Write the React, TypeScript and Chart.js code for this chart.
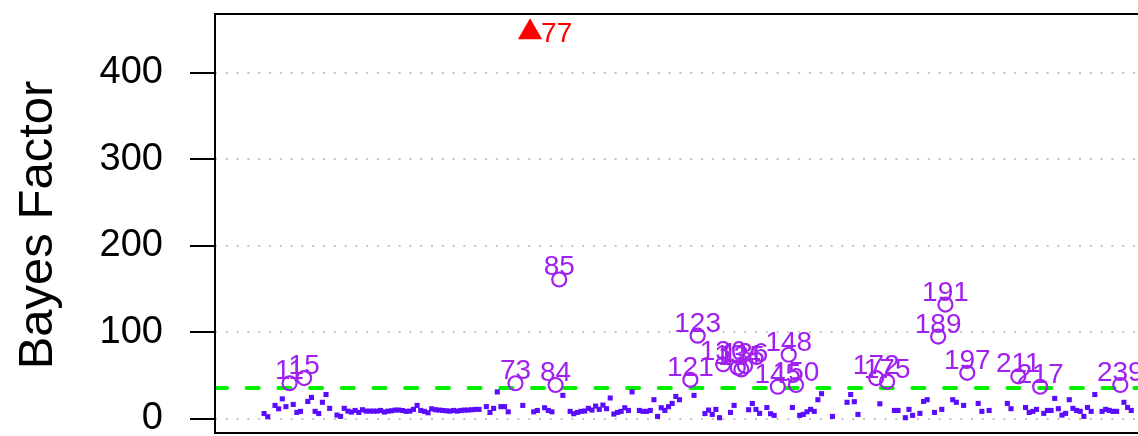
import React, { useEffect, useRef } from 'react';
import { Chart, registerables } from 'chart.js';

Chart.register(...registerables);

// ---- data (index along the x axis, Bayes factor value) ----
const squareIdx = [4, 5, 7, 8, 9, 10, 12, 13, 14, 16, 17, 18, 19, 20, 21, 22, 24, 25, 26, 27, 28, 29, 30, 31, 32, 33, 34, 35, 36, 37, 38, 39, 40, 41, 42, 43, 44, 45, 46, 47, 48, 49, 50, 51, 52, 53, 54, 55, 56, 57, 58, 59, 60, 61, 62, 63, 65, 66, 67, 68, 69, 70, 71, 75, 78, 79, 81, 82, 83, 86, 88, 89, 90, 91, 92, 93, 94, 95, 96, 97, 98, 99, 100, 101, 102, 103, 104, 105, 107, 108, 109, 110, 111, 112, 113, 114, 115, 116, 117, 118, 122, 125, 126, 127, 128, 129, 132, 133, 137, 138, 139, 140, 142, 143, 144, 149, 151, 152, 153, 154, 155, 156, 157, 160, 164, 165, 166, 167, 173, 177, 178, 180, 181, 182, 184, 185, 186, 188, 190, 193, 194, 196, 200, 201, 203, 208, 209, 213, 214, 215, 216, 218, 219, 220, 221, 222, 223, 224, 225, 226, 227, 228, 229, 230, 231, 232, 234, 235, 236, 237, 238, 240, 241, 242];
const squareVal = [6, 2.3, 15.4, 11.5, 23, 14, 16.5, 7.3, 8.5, 20, 24.6, 8.5, 6, 19, 28, 12, 4.2, 2.7, 12, 8.8, 7.7, 9.6, 7.3, 10.4, 8.8, 8.8, 8.8, 8.8, 9.6, 7.7, 8.8, 9.2, 10, 10, 9.5, 8.5, 8.8, 10.8, 15.4, 9.6, 8.5, 6.9, 11.5, 10.4, 10, 9.6, 9.2, 8.8, 9.6, 8.8, 9.6, 10, 10, 10.4, 10.8, 10.8, 14, 7.3, 12, 31, 14, 14, 8, 15.4, 8, 9.6, 12.7, 9.6, 8, 27, 8.5, 5.8, 7.3, 8.5, 8.9, 12, 10, 14.6, 10.8, 15.8, 11.6, 24, 5.4, 7.3, 8.5, 12.7, 9.6, 31, 9.6, 8.5, 8.5, 9.6, 22, 2.7, 12.7, 9.6, 13.9, 17.7, 25.8, 22, 27, 6, 10, 5, 10.8, 1.2, 7.3, 15.4, 10.4, 17.7, 10.8, 6.2, 13, 5.8, 3.9, 13, 3.9, 5, 8, 10.8, 8.5, 22, 29, 2.7, 19, 28, 19.7, 5, 17.3, 9.6, 9.6, 1.2, 10.8, 3.9, 6.2, 20, 22, 7.3, 10.8, 22, 19, 15.4, 17.7, 8.5, 9.6, 17.7, 11.6, 13, 7.3, 8.5, 10.8, 6.2, 9.6, 9.6, 23.5, 11.6, 4.2, 6.2, 22, 12, 9.6, 8.5, 2.7, 13, 8.5, 28, 8.5, 10.8, 9.6, 8.5, 8.5, 19, 13, 9.6];

const circleIdx = [11, 15, 73, 84, 85, 121, 123, 130, 134, 135, 136, 145, 148, 150, 172, 175, 189, 191, 197, 211, 217, 239];
const circleVal = [41, 47, 41, 39, 161, 45, 96, 63, 59, 57, 61, 37, 74, 39, 47, 43, 95, 132, 53, 49, 37, 39];

const peakIdx = [77];
const peakVal = [447];

const threshold = 35.5;
const yTickValues = [0, 100, 200, 300, 400];
const xMin = -9.47;
const xMax = 273.5;
const yMin = -16.5;
const yMax = 468;

const FONT = '"Liberation Sans", Arial, Helvetica, sans-serif';
const SQUARE_COLOR = '#5b0cff';
const CIRCLE_COLOR = '#a020f0';

const decorPlugin = {
  id: 'decor',
  afterDatasetsDraw(chart: any) {
    const ctx = chart.ctx;
    const circMeta = chart.getDatasetMeta(0);
    ctx.save();
    ctx.fillStyle = CIRCLE_COLOR;
    ctx.font = `28px ${FONT}`;
    ctx.textAlign = 'center';
    ctx.textBaseline = 'alphabetic';
    circMeta.data.forEach((el: any, i: number) => {
      ctx.fillText(String(circleIdx[i]), el.x, el.y - 4);
    });
    const triMeta = chart.getDatasetMeta(1);
    ctx.fillStyle = '#ff0000';
    ctx.textAlign = 'left';
    ctx.textBaseline = 'middle';
    triMeta.data.forEach((el: any, i: number) => {
      ctx.fillText(String(peakIdx[i]), el.x + 11, el.y + 2);
    });
    ctx.restore();
  },
  afterDraw(chart: any) {
    const ctx = chart.ctx;
    const a = chart.chartArea;
    ctx.save();
    ctx.strokeStyle = '#000';
    ctx.lineWidth = 2;
    ctx.strokeRect(a.left, a.top, a.right - a.left, a.bottom - a.top);
    ctx.fillStyle = '#000';
    ctx.font = `49px ${FONT}`;
    ctx.textAlign = 'center';
    ctx.textBaseline = 'alphabetic';
    ctx.translate(52, 225);
    ctx.rotate(-Math.PI / 2);
    ctx.fillText('Bayes Factor', 0, 0);
    ctx.restore();
  },
};

export default function App() {
  const canvasRef = useRef<HTMLCanvasElement | null>(null);

  useEffect(() => {
    document.body.style.margin = '0';
    const canvas = canvasRef.current;
    if (!canvas) return;
    const chart = new Chart(canvas, {
      type: 'scatter',
      data: {
        datasets: [
          {
            data: circleIdx.map((x, i) => ({ x, y: circleVal[i] })),
            pointStyle: 'circle',
            pointRadius: 7,
            pointBorderWidth: 2.2,
            pointBorderColor: CIRCLE_COLOR,
            pointBackgroundColor: 'rgba(0,0,0,0)',
          },
          {
            data: peakIdx.map((x, i) => ({ x, y: peakVal[i] })),
            pointStyle: 'triangle',
            pointRadius: 14,
            pointBorderWidth: 0,
            pointBackgroundColor: '#ff0000',
          },
          {
            data: squareIdx.map((x, i) => ({ x, y: squareVal[i] })),
            pointStyle: 'rect',
            pointRadius: 3.6,
            pointBorderWidth: 0,
            pointBackgroundColor: SQUARE_COLOR,
          },
          {
            type: 'line',
            data: [
              { x: xMin, y: threshold },
              { x: xMax, y: threshold },
            ],
            showLine: true,
            pointRadius: 0,
            borderColor: '#00f000',
            borderWidth: 4,
            borderDash: [12, 19.7],
            borderCapStyle: 'round',
          } as any,
        ],
      },
      options: {
        animation: false,
        responsive: false,
        events: [],
        layout: { padding: { left: 0, top: 14, right: 8, bottom: 3 } },
        plugins: {
          legend: { display: false },
          tooltip: { enabled: false },
          title: { display: false },
        },
        scales: {
          x: {
            type: 'linear',
            min: xMin,
            max: xMax,
            display: false,
          },
          y: {
            type: 'linear',
            min: yMin,
            max: yMax,
            afterBuildTicks: (scale: any) => {
              scale.ticks = yTickValues.map((v) => ({ value: v }));
            },
            afterFit: (scale: any) => {
              scale.width = 215;
              scale.paddingTop = 0;
              scale.paddingBottom = 0;
            },
            ticks: {
              color: '#000',
              font: { family: FONT, size: 38 },
              padding: 27,
            },
            grid: {
              display: true,
              drawOnChartArea: true,
              drawTicks: true,
              tickLength: 25,
              tickColor: '#000',
              tickWidth: 2,
              color: '#c4c4c4',
              lineWidth: 2,
            },
            border: { display: false, dash: [2, 8.8] },
          },
        },
      },
      plugins: [decorPlugin],
    });
    return () => chart.destroy();
  }, []);

  return (
    <div style={{ width: 1138, height: 436, overflow: 'hidden', position: 'relative' }}>
      <canvas ref={canvasRef} width={1260} height={447} style={{ width: 1260, height: 447, display: 'block' }} />
    </div>
  );
}
